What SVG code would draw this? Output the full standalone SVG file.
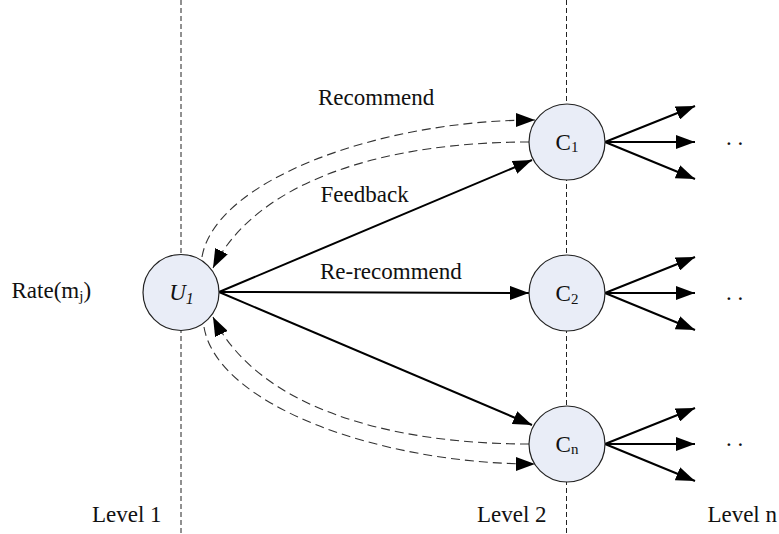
<svg xmlns="http://www.w3.org/2000/svg" width="779" height="534" viewBox="0 0 779 534">
<style>
text{font-family:"Liberation Serif","Times New Roman",serif;font-size:23px;fill:#111}
.lvl{stroke:#222;stroke-width:1;stroke-dasharray:5,3;fill:none}
.node{fill:#E9EDF7;stroke:#222;stroke-width:1.2}
.solid{stroke:#000;stroke-width:2;fill:none;marker-end:url(#ah)}
.dash{stroke:#333;stroke-width:1.1;stroke-dasharray:9,5;fill:none;marker-end:url(#ah)}
</style>
<defs>
<marker id="ah" markerUnits="userSpaceOnUse" markerWidth="19" markerHeight="14" refX="19" refY="7" orient="auto">
<path d="M0,0 L19,7 L0,14 z" fill="#000"/>
</marker>
</defs>
<g id="levels">
<line class="lvl" x1="181" y1="0" x2="181" y2="534"/>
<line class="lvl" x1="566.5" y1="0" x2="566.5" y2="534"/>
</g>
<g id="connectors">
<path class="dash" d="M202,257 C215,180 380,120 535,120"/>
<path class="dash" d="M529,142 C390,142 258,178 213,268"/>
<path class="dash" d="M204,327 C217,405 380,464 535,464"/>
<path class="dash" d="M529,444 C390,444 258,408 213,317"/>
<line class="solid" x1="219" y1="292" x2="532" y2="160"/>
<line class="solid" x1="219" y1="292" x2="529" y2="293"/>
<line class="solid" x1="219" y1="292" x2="532" y2="425"/>
<line class="solid" x1="605" y1="142" x2="695" y2="106"/>
<line class="solid" x1="605" y1="142" x2="695" y2="142"/>
<line class="solid" x1="605" y1="142" x2="695" y2="179"/>
<line class="solid" x1="605" y1="293" x2="695" y2="257"/>
<line class="solid" x1="605" y1="293" x2="695" y2="293"/>
<line class="solid" x1="605" y1="293" x2="695" y2="330"/>
<line class="solid" x1="605" y1="444" x2="695" y2="408"/>
<line class="solid" x1="605" y1="444" x2="695" y2="444"/>
<line class="solid" x1="605" y1="444" x2="695" y2="481"/>
</g>
<g id="U1">
<circle class="node" cx="181" cy="292.5" r="38"/>
<text x="181.5" y="300" text-anchor="middle" font-style="italic" font-size="25">U<tspan font-size="16" dy="4">1</tspan></text>
</g>
<g id="C1">
<circle class="node" cx="567" cy="142" r="38"/>
<text x="567" y="150" text-anchor="middle">C<tspan font-size="15" dy="2">1</tspan></text>
</g>
<g id="C2">
<circle class="node" cx="567" cy="293" r="38"/>
<text x="567" y="301" text-anchor="middle">C<tspan font-size="15" dy="3">2</tspan></text>
</g>
<g id="Cn">
<circle class="node" cx="567" cy="444" r="38"/>
<text x="567" y="452" text-anchor="middle">C<tspan font-size="15" dy="2">n</tspan></text>
</g>
<g id="labels">
<text x="318" y="105">Recommend</text>
<text x="320.5" y="201.5">Feedback</text>
<text x="320" y="279">Re-recommend</text>
<text x="11.5" y="298">Rate(m<tspan font-size="15" dy="3">j</tspan><tspan dy="-3">)</tspan></text>
<text x="726" y="145">. .</text>
<text x="726" y="300">. .</text>
<text x="726" y="446">. .</text>
<text x="92" y="522">Level 1</text>
<text x="477" y="522">Level 2</text>
<text x="777" y="522" text-anchor="end">Level n</text>
</g>
</svg>
